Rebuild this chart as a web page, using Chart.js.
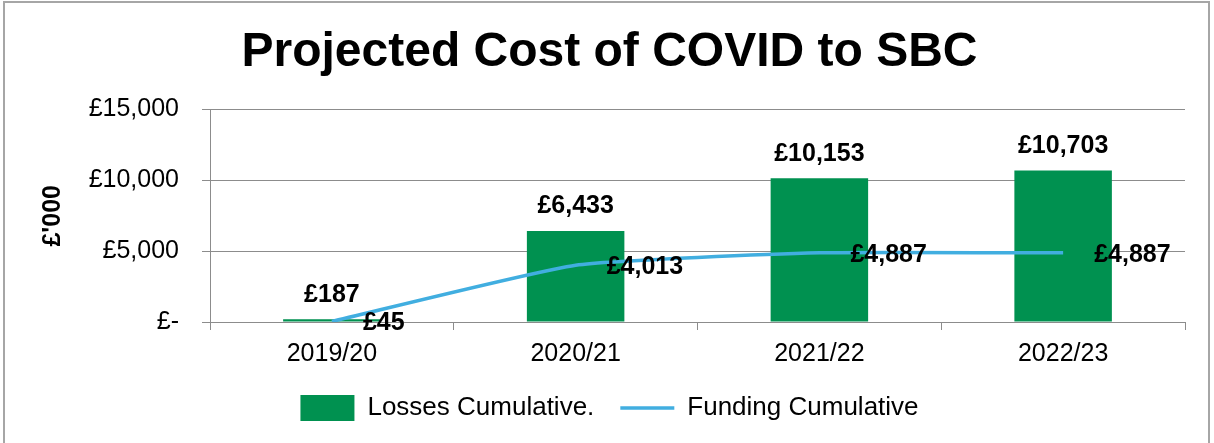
<!DOCTYPE html>
<html>
<head>
<meta charset="utf-8">
<script src="https://cdn.jsdelivr.net/npm/chart.js@4"></script>
<style>
  html, body { margin: 0; padding: 0; background: #fff; }
  #wrap { position: relative; width: 1214px; height: 443px; overflow: hidden; }
  #frame { position: absolute; left: 3px; top: 1px; width: 1207px; height: 460px; border: 2px solid #a6a6a6; box-sizing: border-box; pointer-events: none; }
  canvas { position: absolute; left: 0; top: 0; }
</style>
</head>
<body>
<div id="wrap">
  <canvas id="chart" width="1214" height="443"></canvas>
  <div id="frame"></div>
</div>
<script>
const years = ['2019/20', '2020/21', '2021/22', '2022/23'];
const lossesCumulative = [187, 6433, 10153, 10703];
const fundingCumulative = [45, 4013, 4887, 4887];
const yTicks = [0, 5000, 10000, 15000];

const green = '#009150';
const blue = '#41aee0';
const grey = '#8c8c8c';
const FONT = 'Arial, "Liberation Sans", sans-serif';

const money = v => v === 0 ? '£-' : '£' + v.toLocaleString('en-GB');

// value labels: above the bars, right of the line points
const valueLabels = {
    id: 'valueLabels',
    afterDatasetsDraw(chart) {
        const ctx = chart.ctx;
        ctx.save();
        ctx.font = 'bold 25px ' + FONT;
        ctx.fillStyle = '#000';

        const bars = chart.getDatasetMeta(0).data;
        ctx.textAlign = 'center';
        ctx.textBaseline = 'bottom';
        bars.forEach((el, i) => {
            ctx.fillText(money(lossesCumulative[i]), el.x, el.y - 12);
        });

        const pts = chart.getDatasetMeta(1).data;
        ctx.textAlign = 'left';
        ctx.textBaseline = 'middle';
        pts.forEach((el, i) => {
            ctx.fillText(money(fundingCumulative[i]), el.x + 31, el.y + 2);
        });
        ctx.restore();
    }
};

new Chart(document.getElementById('chart'), {
    data: {
        labels: years,
        datasets: [
            {
                type: 'bar',
                label: 'Losses Cumulative.',
                data: lossesCumulative,
                backgroundColor: green,
                borderWidth: 0,
                barPercentage: 0.4,
                categoryPercentage: 1,
                order: 1
            },
            {
                type: 'line',
                label: 'Funding Cumulative',
                data: fundingCumulative,
                borderColor: blue,
                backgroundColor: blue,
                borderWidth: 3.5,
                pointRadius: 0,
                tension: 0.15,
                fill: false,
                order: 0
            }
        ]
    },
    options: {
        responsive: false,
        animation: false,
        layout: { padding: { left: 34, right: 29, top: 0, bottom: 12 } },
        plugins: {
            title: {
                display: true,
                text: 'Projected Cost of COVID to SBC',
                color: '#000',
                font: { family: FONT, size: 48, weight: 'bold' },
                padding: { top: 24, bottom: 28 }
            },
            legend: {
                position: 'bottom',
                labels: {
                    color: '#000',
                    font: { family: FONT, size: 26 },
                    usePointStyle: true,
                    pointStyleWidth: 54,
                    padding: 26,
                    sort: (a, b) => a.datasetIndex - b.datasetIndex,
                    generateLabels: chart => {
                        const items = Chart.defaults.plugins.legend.labels.generateLabels(chart);
                        items.forEach(it => {
                            if (it.datasetIndex === 0) {
                                it.pointStyle = 'rect';
                                it.lineWidth = 0;
                            } else {
                                it.pointStyle = 'line';
                                it.lineWidth = 3.5;
                                it.strokeStyle = blue;
                            }
                        });
                        return items;
                    }
                }
            },
            tooltip: { enabled: false }
        },
        scales: {
            x: {
                offset: true,
                grid: {
                    offset: true,
                    drawOnChartArea: false,
                    drawTicks: true,
                    tickLength: 8,
                    color: grey
                },
                border: { display: true, color: grey },
                ticks: {
                    color: '#000',
                    padding: 9,
                    font: { family: FONT, size: 25 }
                },
                afterFit: scale => { scale.height = 47; }
            },
            y: {
                min: 0,
                max: 15000,
                afterBuildTicks: scale => { scale.ticks = yTicks.map(v => ({ value: v })); },
                grid: { color: grey, tickLength: 8 },
                border: { display: true, color: grey },
                ticks: {
                    color: '#000',
                    padding: 23,
                    font: { family: FONT, size: 25 },
                    callback: v => money(v)
                },
                title: {
                    display: true,
                    text: "£'000",
                    color: '#000',
                    font: { family: FONT, size: 25, weight: 'bold' },
                    padding: { top: 4, bottom: 0 }
                },
                afterFit: scale => { scale.width = 176; }
            }
        }
    },
    plugins: [valueLabels]
});
</script>
</body>
</html>
